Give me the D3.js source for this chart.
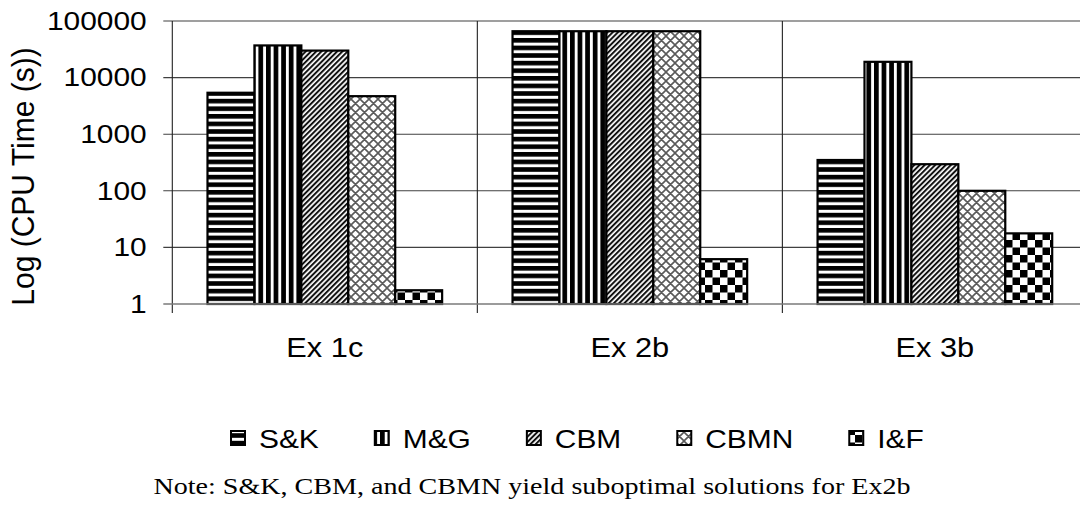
<!DOCTYPE html>
<html>
<head>
<meta charset="utf-8">
<script src="https://cdn.jsdelivr.net/npm/d3@7"></script>
<style>
  html, body { margin: 0; padding: 0; background: #fff; }
  svg { display: block; }
</style>
</head>
<body>
<svg id="chart" width="1080" height="517"></svg>
<script>
// CPU time per example and method (seconds)
const categories = ["Ex 1c", "Ex 2b", "Ex 3b"];
const seriesNames = ["S&K", "M&G", "CBM", "CBMN", "I&F"];
const skTimes   = [5400, 66000, 350];
const mgTimes   = [37000, 66000, 19000];
const cbmTimes  = [30000, 66000, 295];
const cbmnTimes = [4700, 66000, 100];
const ifTimes   = [1.75, 6.2, 17.7];
const yTickValues = [1, 10, 100, 1000, 10000, 100000];
const yTitle = "Log (CPU Time (s))";
const noteText = "Note: S&K, CBM, and CBMN yield suboptimal solutions for Ex2b";

const seriesValues = [skTimes, mgTimes, cbmTimes, cbmnTimes, ifTimes];
const patternIds = ["pat-hstripe", "pat-vstripe", "pat-diag", "pat-cross", "pat-check"];

const svg = d3.select("#chart");
const SANS = "'Liberation Sans', Arial, sans-serif";
const SERIF = "'Liberation Serif', 'Times New Roman', serif";
const SX = 1.15; // glyphs are drawn slightly wide

// ---- fill patterns ----
const defs = svg.append("defs");

const hs = defs.append("pattern").attr("id", "pat-hstripe")
  .attr("patternUnits", "userSpaceOnUse").attr("width", 8).attr("height", 7.6);
hs.append("rect").attr("width", 8).attr("height", 7.6).attr("fill", "#fff");
hs.append("rect").attr("width", 8).attr("height", 4.6).attr("fill", "#000");

const vs = defs.append("pattern").attr("id", "pat-vstripe")
  .attr("patternUnits", "userSpaceOnUse").attr("width", 7.6).attr("height", 8);
vs.append("rect").attr("width", 7.6).attr("height", 8).attr("fill", "#fff");
vs.append("rect").attr("width", 4.7).attr("height", 8).attr("fill", "#000");

const dg = defs.append("pattern").attr("id", "pat-diag")
  .attr("patternUnits", "userSpaceOnUse").attr("width", 3.7).attr("height", 8)
  .attr("patternTransform", "rotate(45)");
dg.append("rect").attr("width", 3.7).attr("height", 8).attr("fill", "#fff");
dg.append("rect").attr("width", 2.0).attr("height", 8).attr("fill", "#111");

const cr = defs.append("pattern").attr("id", "pat-cross")
  .attr("patternUnits", "userSpaceOnUse").attr("width", 9).attr("height", 9);
cr.append("rect").attr("width", 9).attr("height", 9).attr("fill", "#fff");
cr.append("path").attr("d", "M0,0L9,9M9,0L0,9M-1,8L1,10M8,-1L10,1M-1,1L1,-1M8,10L10,8")
  .attr("stroke", "#5a5a5a").attr("stroke-width", 1.6).attr("fill", "none");

const ck = defs.append("pattern").attr("id", "pat-check")
  .attr("patternUnits", "userSpaceOnUse").attr("width", 15).attr("height", 15);
ck.append("rect").attr("width", 15).attr("height", 15).attr("fill", "#fff");
ck.append("rect").attr("width", 7.5).attr("height", 7.5).attr("fill", "#000");
ck.append("rect").attr("x", 7.5).attr("y", 7.5).attr("width", 7.5).attr("height", 7.5).attr("fill", "#000");

// ---- scales ----
const plot = { left: 172.3, right: 1087.4, top: 21, bottom: 304 };

const x0 = d3.scaleBand().domain(categories)
  .range([plot.left, plot.right]).paddingInner(0).paddingOuter(0);
const x1 = d3.scaleBand().domain(seriesNames)
  .range([0, x0.bandwidth()]).paddingInner(0).paddingOuter(0.75);
const y = d3.scaleLog().domain([1, 100000]).range([plot.bottom, plot.top]);

function stretchedText(parent, x, yPos, str, opts) {
  return parent.append("text")
    .attr("transform", `translate(${x},${yPos}) scale(${opts.sx || 1},1)` + (opts.rotate ? ` rotate(${opts.rotate})` : ""))
    .attr("text-anchor", opts.anchor || "start")
    .attr("font-family", opts.family || SANS)
    .attr("font-size", opts.size)
    .attr("fill", "#000")
    .text(str);
}

// ---- horizontal gridlines ----
const grid = svg.append("g");
grid.selectAll("line.h").data(yTickValues.filter(v => v !== 1)).join("line")
  .attr("x1", plot.left - 9).attr("x2", plot.right)
  .attr("y1", d => y(d)).attr("y2", d => y(d))
  .attr("stroke", "#404040").attr("stroke-width", 1.1);

// category separators (extend below the baseline as tick marks)
const seps = [plot.left].concat(categories.map(c => x0(c) + x0.bandwidth()));
grid.selectAll("line.v").data(seps).join("line")
  .attr("x1", d => d).attr("x2", d => d)
  .attr("y1", plot.top).attr("y2", plot.bottom + 9)
  .attr("stroke", "#202020").attr("stroke-width", 1.1);

// ---- bars ----
const barsG = svg.append("g");
categories.forEach((cat, ci) => {
  seriesNames.forEach((s, si) => {
    const v = seriesValues[si][ci];
    barsG.append("rect")
      .attr("x", x0(cat) + x1(s))
      .attr("y", y(v))
      .attr("width", x1.bandwidth())
      .attr("height", y(1) - y(v))
      .attr("fill", `url(#${patternIds[si]})`)
      .attr("stroke", "#000")
      .attr("stroke-width", 2.2);
  });
});

// baseline at value 1
svg.append("line")
  .attr("x1", plot.left - 9).attr("x2", plot.right)
  .attr("y1", y(1)).attr("y2", y(1))
  .attr("stroke", "#7a7a7a").attr("stroke-width", 1.6);

// ---- axis labels ----
const yAxis = d3.axisLeft(y).tickValues(yTickValues).tickFormat(d3.format("d"));
const tickLabels = svg.append("g");
yTickValues.forEach(v => {
  stretchedText(tickLabels, 146.7, y(v) + 8.8, yAxis.tickFormat()(v), { size: 26, sx: SX, anchor: "end" });
});

categories.forEach(c => {
  stretchedText(svg, x0(c) + x0.bandwidth() / 2, 356.7, c, { size: 27, sx: 1.14, anchor: "middle" });
});

stretchedText(svg, 34, 176.5, yTitle, { size: 30, sx: 1.05, anchor: "middle", rotate: -90 });

// ---- legend ----
const legend = svg.append("g");
let cursor = 231;
seriesNames.forEach((s, si) => {
  legend.append("rect")
    .attr("x", cursor).attr("y", 431)
    .attr("width", 14).attr("height", 14)
    .attr("fill", `url(#${patternIds[si]})`)
    .attr("stroke", "#000").attr("stroke-width", 2);
  const t = stretchedText(legend, cursor + 28, 448.3, s, { size: 26, sx: SX });
  const w = t.node().getComputedTextLength() * SX;
  cursor = cursor + 28 + w + 56;
});

// ---- footnote ----
stretchedText(svg, 532, 494, noteText, { size: 24, sx: 1.17, anchor: "middle", family: SERIF });
</script>
</body>
</html>
